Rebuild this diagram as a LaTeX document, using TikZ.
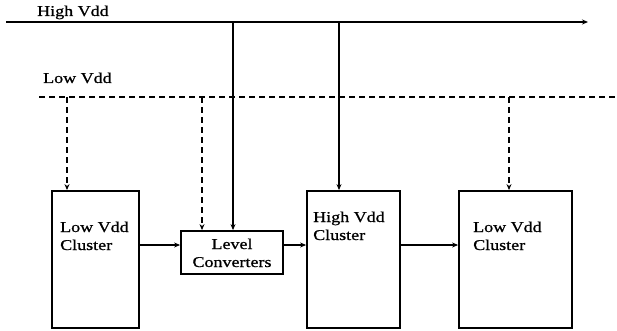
\documentclass[tikz,border=0pt]{standalone}
\usepackage{fontspec}
\setmainfont{Liberation Serif}
\newfontfamily\wfont{Liberation Serif}[FakeStretch=1.2,FakeBold=0.8]
\usetikzlibrary{arrows.meta}
\begin{document}
\begin{tikzpicture}[x=1pt,y=-1pt,
  box/.style={draw, line width=1.8pt, inner sep=0pt},
  wire/.style={line width=1.4pt},
  dsh/.style={line width=1.5pt, dash pattern=on 6pt off 4pt},
  arr/.style={-{Stealth[length=6pt,width=5pt]}},
  lbl/.style={inner sep=0pt, font=\wfont\fontsize{15}{18}\selectfont},
  ctxt/.style={inner sep=0pt, align=center, font=\wfont\fontsize{15}{18}\selectfont}]
\useasboundingbox (0,0) rectangle (617,331);
% buses
\coordinate (hs) at (6,22);
\coordinate (he) at (588,22);
\coordinate (ls) at (39,97);
\coordinate (le) at (617,97);
\draw[wire,arr] (hs) -- (he);
\draw[dsh] (ls) -- (le);
\node[lbl, anchor=base west] (tHigh) at (37,16) {High Vdd};
\node[lbl, anchor=base west] (tLow) at (43,83) {Low Vdd};
% boxes
\node[box, minimum width=87pt, minimum height=137pt] (A) at (95.5,259.5) {};
\node[box, minimum width=102pt, minimum height=43pt] (LC) at (232,252.5) {};
\node[box, minimum width=93pt, minimum height=137pt] (H) at (353.5,259.5) {};
\node[box, minimum width=113pt, minimum height=137pt] (B) at (515.5,259.5) {};
% box texts
\node[lbl, anchor=base west, align=left] (tA) at (60,250) {Low Vdd\\Cluster};
\node[ctxt, anchor=base] (tLC) at (232,267) {Level\\Converters};
\node[lbl, anchor=base west, align=left] (tH) at (313,240) {High Vdd\\Cluster};
\node[lbl, anchor=base west, align=left] (tB) at (473,250) {Low Vdd\\Cluster};
% signal arrows
\coordinate (sig) at (0,245);
\draw[wire,arr] (A.east |- sig) -- (LC.west |- sig);
\draw[wire,arr] (LC.east |- sig) -- (H.west |- sig);
\draw[wire,arr] (H.east |- sig) -- (B.west |- sig);
% supply drops
\coordinate (d1) at (67,97);
\coordinate (d2) at (202,97);
\coordinate (s1) at (233,22);
\coordinate (s2) at (339,22);
\coordinate (d3) at (509,97);
\draw[dsh,arr] (d1) -- (d1 |- A.north);
\draw[dsh,arr] (d2) -- (d2 |- LC.north);
\draw[wire,arr] (s1) -- (s1 |- LC.north);
\draw[wire,arr] (s2) -- (s2 |- H.north);
\draw[dsh,arr] (d3) -- (d3 |- B.north);
\end{tikzpicture}
\end{document}
